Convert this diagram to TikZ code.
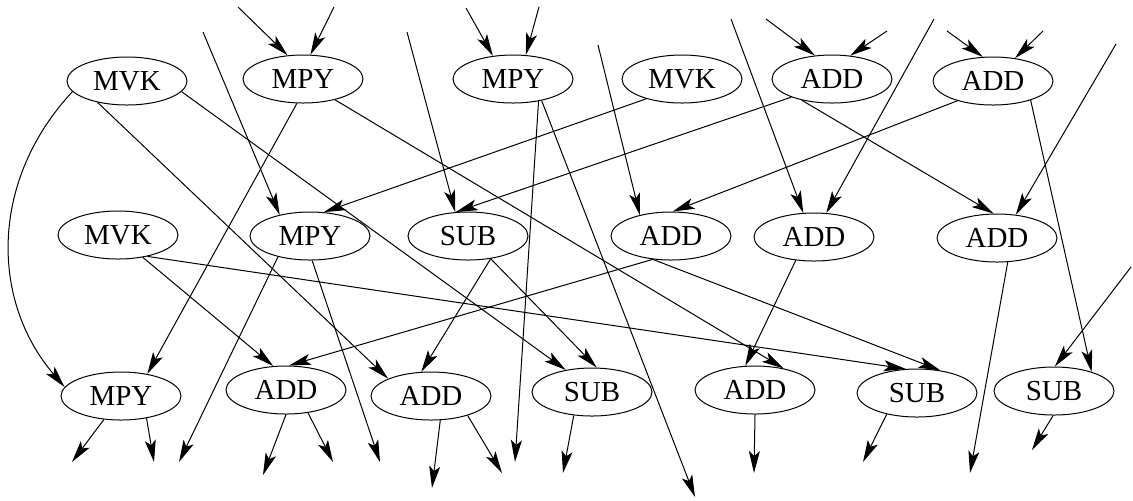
\documentclass[tikz,border=0pt]{standalone}
\usepackage{fontspec}
\setmainfont{Liberation Serif}
\usetikzlibrary{arrows.meta,shapes.geometric}

\begin{document}
\begin{tikzpicture}[x=0.5pt,y=-0.5pt,
    op/.style={draw,ellipse,line width=0.5pt,minimum width=60pt,minimum height=24pt,
      inner sep=0pt,font=\fontsize{14.5}{16}\selectfont},
    dep/.style={line width=0.5pt,-{Stealth[length=11pt,width=5.5pt,inset=2.5pt]}}]
  \useasboundingbox (0,0) rectangle (1133,500);
  % first row
  \node[op] (mvkA) at (127,81) {MVK};
  \node[op] (mpyA) at (303,79) {MPY};
  \node[op] (mpyB) at (513,79) {MPY};
  \node[op] (mvkB) at (682,79) {MVK};
  \node[op] (addA) at (832,79) {ADD};
  \node[op] (addB) at (993,81) {ADD};
  % second row
  \node[op] (mvkC) at (118,235) {MVK};
  \node[op] (mpyC) at (310,236) {MPY};
  \node[op] (subA) at (468,236) {SUB};
  \node[op] (addC) at (671,236) {ADD};
  \node[op] (addD) at (814,237) {ADD};
  \node[op] (addE) at (997,238) {ADD};
  % third row
  \node[op] (mpyD) at (121,396) {MPY};
  \node[op] (addF) at (286,390) {ADD};
  \node[op] (addG) at (431,396) {ADD};
  \node[op] (subB) at (592,392) {SUB};
  \node[op] (addH) at (755,390) {ADD};
  \node[op] (subC) at (917,393) {SUB};
  \node[op] (subD) at (1054,391) {SUB};
  % loose ends coming in
  \coordinate (i1) at (238,7);   \coordinate (i2) at (334,7);
  \coordinate (i3) at (466,8);   \coordinate (i4) at (539,7);
  \coordinate (i5) at (766,19);  \coordinate (i6) at (887,31);
  \coordinate (i7) at (947,31);  \coordinate (i8) at (1043,31);
  \coordinate (i9) at (203,32);  \coordinate (i10) at (407,32);
  \coordinate (i11) at (598,45); \coordinate (i12) at (731,19);
  \coordinate (i13) at (934,19); \coordinate (i14) at (1116,44);
  \coordinate (i15) at (1131,267);
  % loose ends going out
  \coordinate (o1) at (72,462);   \coordinate (o2) at (154,462);
  \coordinate (o3) at (179,462);  \coordinate (o4) at (380,462);
  \coordinate (o5) at (263,475);  \coordinate (o6) at (333,462);
  \coordinate (o7) at (432,488);  \coordinate (o8) at (502,473);
  \coordinate (o9) at (515,462);  \coordinate (o10) at (695,497);
  \coordinate (o11) at (563,473); \coordinate (o12) at (754,473);
  \coordinate (o13) at (863,462); \coordinate (o14) at (970,473);
  \coordinate (o15) at (1032,450);
  % incoming
  \draw[dep] (i1) -- (mpyA.123);
  \draw[dep] (i2) -- (mpyA.73);
  \draw[dep] (i3) -- (mpyB.131);
  \draw[dep] (i4) -- (mpyB.62);
  \draw[dep] (i5) -- (addA.126);
  \draw[dep] (i6) -- (addA.52);
  \draw[dep] (i7) -- (addB.113);
  \draw[dep] (i8) -- (addB.46);
  \draw[dep] (i9) -- (mpyC.145);
  \draw[dep] (i10) -- (subA.118);
  \draw[dep] (i11) -- (addC.146);
  \draw[dep] (i12) -- (addD.114);
  \draw[dep] (i13) -- (addD.63);
  \draw[dep] (i14) -- (addE.51);
  \draw[dep] (i15) -- (subD.88);
  % between nodes
  \draw[dep] (mvkA.191) .. controls (-10,180) and (-10,300) .. (mpyD.171);
  \draw[dep] (mvkA.-144) -- (addG.158);
  \draw[dep] (mvkA.-11) -- (subB.140);
  \draw[dep] (mpyA.-104) -- (mpyD.40);
  \draw[dep] (mpyA.-33) -- (addH.37);
  \draw[dep] (mvkB.-151) -- (mpyC.60);
  \draw[dep] (addA.-156) -- (subA.117);
  \draw[dep] (addA.-145) -- (addE.98);
  \draw[dep] (addB.-151) -- (addC.86);
  \draw[dep] (addB.-27) -- (subD.27);
  \draw[dep] (mvkC.-42) -- (addF.118);
  \draw[dep] (mvkC.-36) -- (subC.115);
  \draw[dep] (addC.-128) -- (addF.83);
  \draw[dep] (addC.-128) -- (subC.44);
  \draw[dep] (subA.-45) -- (addG.112);
  \draw[dep] (subA.-45) -- (subB.79);
  \draw[dep] (addD.-128) -- (addH.112);
  % outgoing
  \draw[dep] (mpyD.234) -- (o1);
  \draw[dep] (mpyD.-41) -- (o2);
  \draw[dep] (mpyC.213) -- (o3);
  \draw[dep] (mpyC.-85) -- (o4);
  \draw[dep] (addF.-90) -- (o5);
  \draw[dep] (addF.-46) -- (o6);
  \draw[dep] (addG.-69) -- (o7);
  \draw[dep] (addG.-28) -- (o8);
  \draw[dep] (mpyB.-41) -- (o9);
  \draw[dep] (mpyB.-37) -- (o10);
  \draw[dep] (subB.-128) -- (o11);
  \draw[dep] (addH.-90) -- (o12);
  \draw[dep] (subC.-145) -- (o13);
  \draw[dep] (addE.-66) -- (o14);
  \draw[dep] (subD.-92) -- (o15);
\end{tikzpicture}
\end{document}
